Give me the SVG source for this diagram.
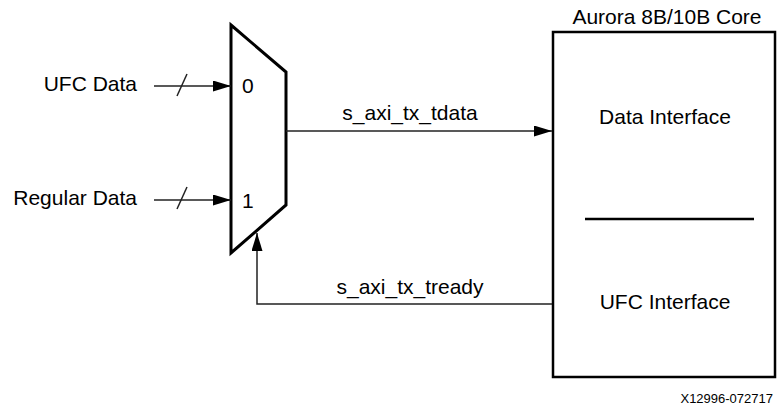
<svg xmlns="http://www.w3.org/2000/svg" width="778" height="407" viewBox="0 0 778 407">
<style>
text{font-family:"Liberation Sans",Arial,sans-serif;font-size:21px;fill:#000}
.c{fill:none;stroke:#222;stroke-width:1.5}
.blk{fill:none;stroke:#000;stroke-width:3}
</style>
<defs>
<marker id="ah" markerWidth="18" markerHeight="11" refX="18" refY="5.5" orient="auto" markerUnits="userSpaceOnUse">
<path d="M0,0 L18,5.5 L0,11 Z" fill="#000"/>
</marker>
</defs>
<rect width="778" height="407" fill="#fff"/>
<g id="mux">
<path class="blk" d="M231,25 L286,72 L286,205 L231,253 Z" stroke-linejoin="miter"/>
<text x="242" y="93">0</text>
<text x="242" y="208">1</text>
</g>
<g id="core">
<rect x="553" y="32" width="222" height="345" fill="none" stroke="#000" stroke-width="2.5"/>
<text x="667" y="24" text-anchor="middle">Aurora 8B/10B Core</text>
<text x="665" y="124" text-anchor="middle">Data Interface</text>
<line x1="585" y1="219" x2="754" y2="219" stroke="#000" stroke-width="2.5"/>
<text x="665" y="309" text-anchor="middle">UFC Interface</text>
</g>
<g id="inputs">
<text x="137" y="91" text-anchor="end">UFC Data</text>
<text x="137" y="205" text-anchor="end">Regular Data</text>
</g>
<g id="connectors">
<line class="c" x1="154" y1="86" x2="231" y2="86" marker-end="url(#ah)"/>
<line class="c" x1="177" y1="96" x2="187" y2="74" stroke-width="2"/>
<line class="c" x1="154" y1="200" x2="231" y2="200" marker-end="url(#ah)"/>
<line class="c" x1="177" y1="209" x2="187" y2="187" stroke-width="2"/>
<line class="c" x1="286" y1="131" x2="552" y2="131" marker-end="url(#ah)"/>
<polyline class="c" points="552,304 257,304 257,233" marker-end="url(#ah)"/>
<text x="410" y="120" text-anchor="middle">s_axi_tx_tdata</text>
<text x="410" y="294" text-anchor="middle">s_axi_tx_tready</text>
</g>
<text x="773" y="403" text-anchor="end" style="font-size:13px">X12996-072717</text>
</svg>
